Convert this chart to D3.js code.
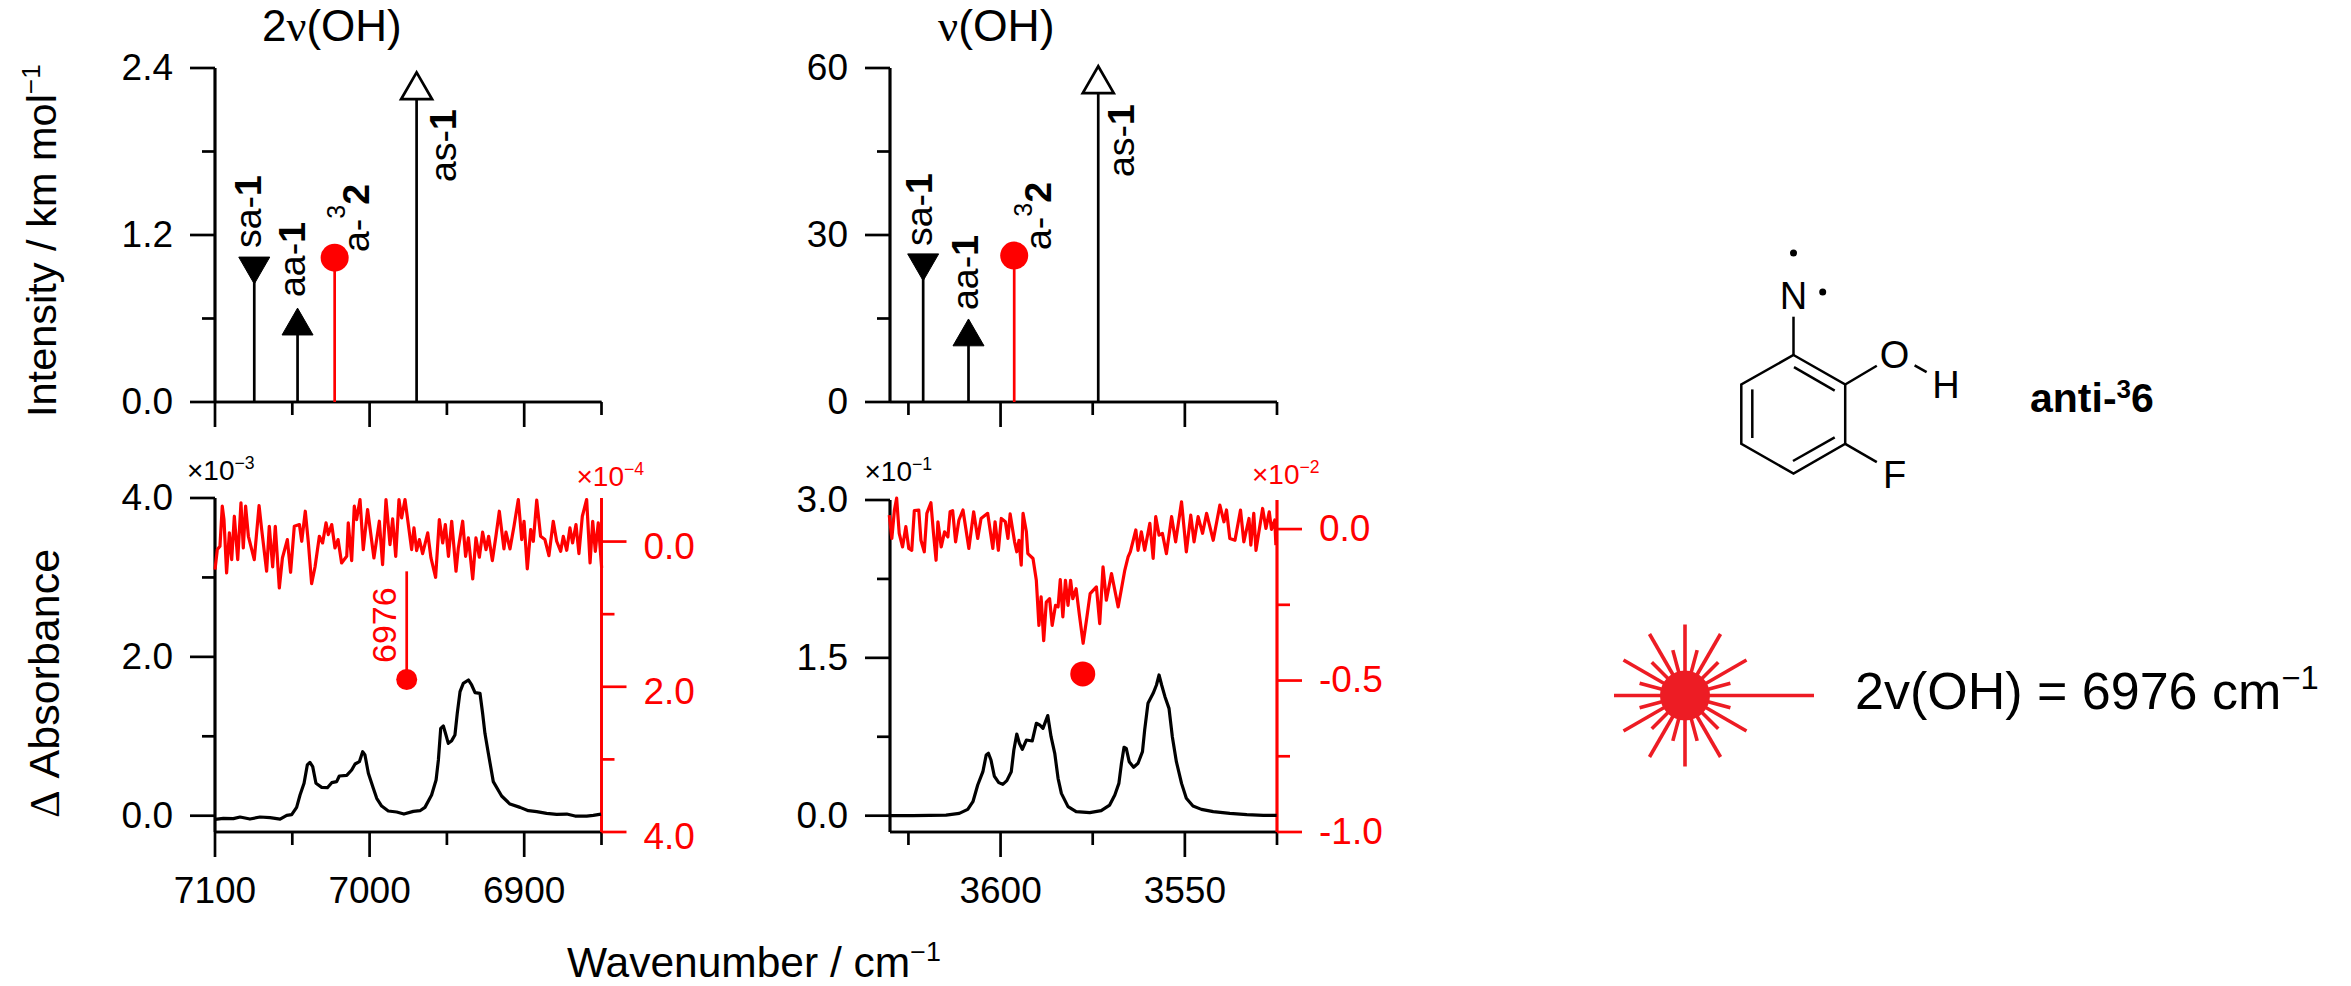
<!DOCTYPE html>
<html>
<head>
<meta charset="utf-8">
<script src="https://cdn.jsdelivr.net/npm/d3@7"></script>
<style>
body { margin: 0; background: #fff; }
text { font-family: "Liberation Sans", Arial, sans-serif; }
</style>
</head>
<body>
<div id="container"></div>
<script>
let w = 2351;
let h = 986;

// calculated sticks, top panels
let stickNames = ["sa", "aa", "a3", "as"];
let stickWn2v = [7074.6, 7046.6, 7022.6, 6969.6];
let stickInt2v = [0.977, 0.546, 1.037, 2.24];
let stickWn1v = [3621, 3608.7, 3596.3, 3573.5];
let stickInt1v = [25, 11.7, 26.3, 57.1];

// measured spectra, 2v(OH)
let wn2vBlack = [7100,7094.6,7088.1,7083.8,7077.4,7070.9,7064.4,7057.9,7053.6,7050.4,7047.2,7045,7042.4,7040.3,7038.6,7036.8,7034.7,7031,7027.3,7024.5,7021.3,7019.6,7014.8,7011.6,7009.4,7006.6,7004.5,7003,7000.8,6997.6,6995.4,6992.2,6987.9,6982.5,6977.8,6971.7,6967.4,6964.2,6959.9,6957,6955.5,6954,6952.3,6950.6,6949.1,6946.9,6944.8,6943.3,6941.5,6939.4,6936.1,6934,6931.8,6928.6,6926.9,6925.4,6923.2,6920,6914.6,6909.2,6902.7,6897.3,6891.9,6885.5,6879,6872.5,6867.1,6859.6,6855.3,6850.3];
let abs2vBlack = [-0.046,-0.033,-0.037,-0.016,-0.042,-0.016,-0.025,-0.042,0.005,0.013,0.105,0.261,0.408,0.639,0.672,0.618,0.408,0.357,0.353,0.416,0.429,0.5,0.508,0.576,0.651,0.68,0.806,0.764,0.534,0.345,0.219,0.122,0.059,0.047,0.021,0.055,0.063,0.105,0.261,0.45,0.702,1.1,1.13,1.016,0.911,0.945,1.016,1.289,1.562,1.667,1.709,1.646,1.55,1.541,1.289,1.037,0.786,0.429,0.248,0.147,0.105,0.063,0.051,0.03,0.017,0.021,-0.004,-0.004,0.005,0.021];
let wn2vRed = [7100,7098.5,7096.8,7095.3,7094.2,7092.5,7090.7,7089.2,7087.5,7085.3,7083.2,7081.7,7080.2,7078.4,7074.6,7071.5,7069.8,7066.6,7064.9,7062.7,7061,7058.4,7056.4,7053.2,7051.1,7048.7,7045.4,7043.9,7041.6,7039.6,7037.5,7035.3,7032.5,7030.4,7028.2,7026.7,7024.5,7022.4,7020.4,7018.1,7014.8,7013.8,7011.6,7009.9,7008.4,7006.2,7004.1,7001.3,6997.2,6993.7,6991.6,6989.4,6986.8,6985.1,6983.1,6981,6979.3,6977.1,6972.8,6971.3,6969.6,6967.8,6965.7,6962.4,6960.3,6957.3,6954.9,6952.7,6951,6949,6946.9,6944.1,6942.6,6939.8,6937.9,6936.1,6933.3,6931.2,6929,6926.9,6924.7,6923,6920.6,6918.3,6916.1,6913.1,6911.8,6909.2,6906.6,6903.8,6901.6,6900.1,6898,6895.8,6894.1,6891.9,6889.4,6886.6,6884,6881.2,6879,6876.4,6874.7,6872.5,6870.4,6868.7,6866.5,6864.6,6862.4,6859.6,6857.4,6855.7,6854,6852.1,6849.9];
let abs2vRed = [0.386,0.11,0.065,-0.487,-0.303,0.432,-0.119,0.249,-0.349,0.249,-0.533,0.088,-0.487,-0.073,0.249,-0.496,-0.165,0.409,-0.211,0.35,-0.211,0.639,0.226,-0.027,0.423,-0.211,-0.234,-0.004,-0.418,0.019,0.58,0.35,-0.073,0.019,-0.257,-0.096,-0.234,0.088,-0.027,0.295,0.203,-0.257,0.262,-0.487,-0.303,-0.579,0.111,-0.441,0.226,-0.28,0.317,-0.579,0.042,-0.312,0.203,-0.579,-0.326,-0.579,0.111,-0.188,0.124,-0.027,0.166,-0.119,0.226,0.492,-0.303,0.019,-0.234,0.203,-0.28,0.409,0.088,-0.28,0.203,-0.05,0.515,-0.05,0.216,-0.129,0.111,-0.073,0.262,-0.073,-0.418,0.101,-0.129,0.101,-0.211,-0.579,-0.027,-0.28,0.377,-0.165,-0.004,-0.57,-0.073,-0.027,0.193,-0.28,-0.004,0.134,-0.073,0.12,-0.188,0.019,-0.234,0.166,-0.349,-0.579,0.295,-0.28,0.134,-0.257,0.364];

// measured spectra, v(OH)
let wn1vBlack = [3630.2,3623.8,3614.8,3611.2,3608.9,3607.5,3606.2,3604.8,3603.9,3603.3,3602.6,3601.7,3600.5,3599.4,3598.3,3597.1,3596.4,3595.6,3594.9,3594.1,3593,3591.4,3590.3,3589.4,3588.5,3587.2,3586.3,3585.3,3584.4,3583.5,3581.7,3579.5,3575.8,3572.7,3570.4,3569,3567.9,3567.2,3566.5,3565.9,3565.1,3563.9,3562.7,3561.5,3560.9,3560,3558.6,3557.7,3557,3556.3,3555.4,3554.3,3553.4,3552.3,3550.9,3549.6,3547.8,3545.5,3542.3,3537.8,3533.2,3528.7,3525.1];
let abs1vBlack = [0,0,0.006,0.022,0.06,0.133,0.292,0.418,0.577,0.593,0.529,0.377,0.314,0.298,0.333,0.418,0.624,0.776,0.688,0.631,0.719,0.71,0.878,0.862,0.83,0.951,0.751,0.593,0.355,0.212,0.086,0.038,0.029,0.048,0.101,0.197,0.307,0.498,0.65,0.64,0.513,0.46,0.498,0.609,0.815,1.068,1.163,1.242,1.337,1.242,1.131,1.02,0.751,0.513,0.307,0.165,0.092,0.06,0.038,0.022,0.01,0.003,0.003];
let wn1vRed = [3630.2,3629.5,3628.8,3628.2,3627.5,3626.6,3625.7,3624.9,3624.1,3623.4,3622.2,3621.6,3620.7,3620,3618.9,3618.2,3617.5,3617,3616.1,3615.2,3614.3,3613.7,3613,3612.2,3611.3,3610.2,3608.6,3607.3,3606.2,3605.3,3603.5,3602.1,3601.5,3600.6,3599.8,3598.7,3598,3597.4,3596.2,3595.6,3595,3594.4,3593.9,3593,3592.6,3591.2,3590.3,3589.6,3589,3588.3,3587.6,3586.7,3586,3585.1,3584.4,3583.8,3583.1,3582.4,3581.7,3581,3580.4,3579.5,3578.6,3577.6,3576.7,3575.7,3574,3573.1,3572.2,3571.3,3569.9,3569,3568.1,3567.2,3566.3,3565.4,3564.8,3563.3,3562.7,3561.8,3560.9,3559.5,3558.6,3557.9,3557,3556.1,3555,3553.6,3552.5,3550.9,3549.6,3548.4,3547.5,3546.4,3545.2,3544.1,3542.3,3540.5,3539.4,3538.7,3537.8,3536.4,3534.9,3534,3532.6,3532.1,3531.3,3530.7,3528.9,3528,3527.1,3526.5,3525.6,3525.3];
let abs1vRed = [0.046,-0.031,0.063,0.102,-0.014,-0.059,0.008,-0.064,-0.07,0.061,0.063,-0.037,-0.075,0.052,0.087,-0.014,-0.103,0.024,-0.059,-0.009,-0.026,0.057,0.061,-0.042,0.03,0.063,-0.064,0.057,-0.031,0.035,0.052,-0.064,0.024,-0.07,0.035,0.024,-0.031,0.05,-0.042,-0.075,-0.037,-0.119,0.052,-0.009,-0.081,-0.097,-0.169,-0.318,-0.224,-0.368,-0.241,-0.23,-0.318,-0.252,-0.257,-0.167,-0.29,-0.169,-0.252,-0.169,-0.23,-0.197,-0.285,-0.377,-0.301,-0.213,-0.191,-0.312,-0.125,-0.235,-0.147,-0.202,-0.257,-0.197,-0.136,-0.092,-0.075,-0.003,-0.07,-0.009,-0.07,0.019,-0.097,0.041,-0.02,-0.014,-0.081,0.041,-0.042,0.09,-0.075,0.046,-0.042,0.041,-0.014,0.052,-0.037,0.079,0.024,0.063,-0.031,-0.037,0.063,-0.042,0.035,-0.053,0.052,-0.07,0.068,0.002,0.057,-0.001,0.03,-0.053];

// tick labels and minor ticks
let xMajor2v = [7100, 7000, 6900];
let xMinor2v = [7050, 6950, 6850];
let xMajor1v = [3600, 3550];
let xMinor1v = [3625, 3575, 3525];
let yMajorInt2v = [0, 1.2, 2.4];
let yMinorInt2v = [0.6, 1.8];
let yMajorInt1v = [0, 30, 60];
let yMinorInt1v = [15, 45];
let yMajorAbs2v = [0, 2, 4];
let yMinorAbs2v = [1, 3];
let yMajorAbs1v = [0, 1.5, 3];
let yMinorAbs1v = [0.75, 2.25];
let redMajor2v = [0, 2, 4];
let redMinor2v = [1, 3];
let redMajor1v = [0, -0.5, -1];
let redMinor1v = [-0.25, -0.75];

// laser burst rays, degrees clockwise from north
let longRays = [0, 30, 60, 120, 150, 180, 210, 240, 270, 300, 330];
let shortRays = [15, 45, 75, 105, 135, 165, 195, 225, 255, 285, 315, 345];

let RED = "#ff0000";
let TOPY = [402, 68];
let LOWY = 832;

let viz = d3.select("#container")
    .append("svg")
    .attr("width", w)
    .attr("height", h)
    .style("display", "block");

// SCALES
let x2v = d3.scaleLinear().domain([7100, 6850]).range([215, 601.5]);
let x1v = d3.scaleLinear().domain([3630, 3525]).range([890, 1277]);
let yInt2v = d3.scaleLinear().domain([0, 2.4]).range(TOPY);
let yInt1v = d3.scaleLinear().domain([0, 60]).range(TOPY);
let yAbs2v = d3.scaleLinear().domain([-0.205, 4]).range([LOWY, 498]);
let yAbs1v = d3.scaleLinear().domain([-0.155, 3]).range([LOWY, 500]);
let yRed2v = d3.scaleLinear().domain([-0.6, 4]).range([498, LOWY]);
let yRed1v = d3.scaleLinear().domain([0.096, -1]).range([500, LOWY]);

// AXIS
function drawAxis(axis, tx, ty, color, labelShift) {
    let g = viz.append("g")
        .attr("transform", `translate(${tx},${ty})`)
        .call(axis.offset(0).tickSizeOuter(0));
    g.selectAll("path, line").attr("stroke", color).attr("stroke-width", 2.7);
    g.selectAll("text").attr("fill", color).attr("font-size", 37)
        .style("font-family", '"Liberation Sans", Arial, sans-serif');
    if (labelShift) g.selectAll("text").attr("y", labelShift);
    return g;
}

function axisPair(maker, scale, major, minor, tx, ty, color, fmt, pad, labelShift) {
    drawAxis(maker(scale).tickValues(minor).tickSize(13).tickFormat(""), tx, ty, color);
    drawAxis(maker(scale).tickValues(major).tickSize(25).tickPadding(pad).tickFormat(fmt), tx, ty, color, labelShift);
}

let fixed1 = d => d.toFixed(1);
let plain = d => String(d);
let noLabel = () => "";

// top panels
axisPair(d3.axisLeft, yInt2v, yMajorInt2v, yMinorInt2v, 215, 0, "#000", fixed1, 17);
axisPair(d3.axisBottom, x2v, xMajor2v, xMinor2v, 0, TOPY[0], "#000", noLabel, 20);
axisPair(d3.axisLeft, yInt1v, yMajorInt1v, yMinorInt1v, 890, 0, "#000", plain, 17);
axisPair(d3.axisBottom, x1v, xMajor1v, xMinor1v, 0, TOPY[0], "#000", noLabel, 20);

// lower panels
axisPair(d3.axisLeft, yAbs2v, yMajorAbs2v, yMinorAbs2v, 215, 0, "#000", fixed1, 17);
axisPair(d3.axisBottom, x2v, xMajor2v, xMinor2v, 0, LOWY, "#000", plain, 20);
// the red labels of this axis sit a little under their ticks
axisPair(d3.axisRight, yRed2v, redMajor2v, redMinor2v, x2v.range()[1], 0, RED, fixed1, 17, 5.5);
axisPair(d3.axisLeft, yAbs1v, yMajorAbs1v, yMinorAbs1v, 890, 0, "#000", fixed1, 17);
axisPair(d3.axisBottom, x1v, xMajor1v, xMinor1v, 0, LOWY, "#000", plain, 20);
axisPair(d3.axisRight, yRed1v, redMajor1v, redMinor1v, 1277, 0, RED, fixed1, 17);

// STICKS
let symUp = d3.symbol().type(d3.symbolTriangle).size(416);

function drawSticks(x, y, wn, val) {
    stickNames.forEach((name, i) => {
        let px = x(wn[i]);
        let py = y(val[i]);
        viz.append("line")
            .attr("x1", px).attr("x2", px)
            .attr("y1", y(0)).attr("y2", py)
            .attr("stroke", name == "a3" ? RED : "#000")
            .attr("stroke-width", 2.7);
        if (name == "a3") {
            viz.append("circle").attr("cx", px).attr("cy", py).attr("r", 14).attr("fill", RED);
        } else {
            viz.append("path")
                .attr("d", symUp())
                .attr("transform", `translate(${px},${py})` + (name == "sa" ? " rotate(180)" : ""))
                .attr("fill", name == "as" ? "#fff" : "#000")
                .attr("stroke", "#000")
                .attr("stroke-width", name == "as" ? 2.7 : 1);
        }
    });
}

drawSticks(x2v, yInt2v, stickWn2v, stickInt2v);
drawSticks(x1v, yInt1v, stickWn1v, stickInt1v);

// rotated labels next to the sticks
function stickLabel(tx, ty, pre, num) {
    let t = viz.append("text")
        .attr("transform", `translate(${tx},${ty}) rotate(-90)`)
        .attr("font-size", 37.5);
    t.append("tspan").text(pre);
    t.append("tspan").attr("font-weight", "bold").text(num);
}

function stickLabel3(tx, ty, supDy) {
    let t = viz.append("text")
        .attr("transform", `translate(${tx},${ty}) rotate(-90)`)
        .attr("font-size", 37.5);
    t.append("tspan").text("a-");
    t.append("tspan").attr("font-size", 25).attr("dy", -supDy).text("3");
    t.append("tspan").attr("font-weight", "bold").attr("dy", supDy).text("2");
}

stickLabel(261, 248, "sa-", "1");
stickLabel(305, 297, "aa-", "1");
stickLabel3(368.5, 252, 23.5);
stickLabel(456, 182, "as-", "1");
stickLabel(932, 246, "sa-", "1");
stickLabel(978, 310, "aa-", "1");
stickLabel3(1050.5, 250, 18.5);
stickLabel(1134, 177, "as-", "1");

// GRAPH
function drawLine(x, y, wn, val, color) {
    let line = d3.line().x(d => x(d[0])).y(d => y(d[1]));
    viz.append("path")
        .datum(d3.zip(wn, val))
        .attr("d", line)
        .attr("fill", "none")
        .attr("stroke", color)
        .attr("stroke-width", 3.2)
        .attr("stroke-linejoin", "round");
}

drawLine(x2v, yRed2v, wn2vRed, abs2vRed, RED);
drawLine(x2v, yAbs2v, wn2vBlack, abs2vBlack, "#000");
drawLine(x1v, yRed1v, wn1vRed, abs1vRed, RED);
drawLine(x1v, yAbs1v, wn1vBlack, abs1vBlack, "#000");

// band position markers
viz.append("line")
    .attr("x1", x2v(6976)).attr("x2", x2v(6976))
    .attr("y1", yRed2v(0.41)).attr("y2", yRed2v(1.9))
    .attr("stroke", RED).attr("stroke-width", 2.7);
viz.append("circle").attr("cx", x2v(6976)).attr("cy", yRed2v(1.9)).attr("r", 10.5).attr("fill", RED);
viz.append("text")
    .attr("transform", `translate(395.5,663) rotate(-90)`)
    .attr("font-size", 34)
    .attr("fill", RED)
    .text("6976");
viz.append("circle").attr("cx", x1v(3577.7)).attr("cy", yRed1v(-0.478)).attr("r", 12.5).attr("fill", RED);

// TEXT
function supText(tx, ty, base, sup, size, color, rotate) {
    let t = viz.append("text")
        .attr("transform", `translate(${tx},${ty})` + (rotate ? " rotate(-90)" : ""))
        .attr("font-size", size)
        .attr("fill", color || "#000");
    t.append("tspan").text(base);
    t.append("tspan").attr("font-size", size * 0.63).attr("dy", -size * 0.38).text(sup);
    return t;
}

// panel titles
let title2 = viz.append("text").attr("transform", "translate(262,41)").attr("font-size", 44);
title2.append("tspan").text("2");
title2.append("tspan").style("font-family", '"Liberation Serif", serif').text("ν");
title2.append("tspan").text("(OH)");
let title1 = viz.append("text").attr("transform", "translate(938,41)").attr("font-size", 44.5);
title1.append("tspan").style("font-family", '"Liberation Serif", serif').text("ν");
title1.append("tspan").text("(OH)");

// axis titles
supText(56, 417, "Intensity / km mol", "−1", 41.5, "#000", true);
let absTitle = viz.append("text").attr("transform", "translate(59,818) rotate(-90)").attr("font-size", 43);
absTitle.append("tspan").style("font-family", '"Liberation Serif", serif').text("Δ");
absTitle.append("tspan").text(" Absorbance");
supText(567, 977, "Wavenumber / cm", "−1", 42.5);

// axis multipliers
supText(187, 480, "×10", "−3", 28);
supText(576.5, 486, "×10", "−4", 28, RED);
supText(864.5, 481, "×10", "−1", 28);
supText(1252, 484, "×10", "−2", 28, RED);

// MOLECULE
let ringPoints = [[1793.5, 355], [1845.2, 384.5], [1845.2, 443.8], [1793.5, 473.6], [1741.3, 443.8], [1741.3, 384.5]];
let mol = viz.append("g");
mol.append("polygon")
    .attr("points", ringPoints.map(d => d.join(",")).join(" "))
    .attr("fill", "none").attr("stroke", "#000").attr("stroke-width", 2.5);
let molBonds = [
    [1793.5, 355, 1793.5, 316.7],
    [1845.2, 384.5, 1876.8, 365.7],
    [1914.6, 365.3, 1926.6, 372.2],
    [1845.2, 443.8, 1876.8, 462.1],
    [1794, 367.2, 1834.7, 390.6],
    [1834.7, 437.3, 1793, 461],
    [1752.3, 389.4, 1752.3, 438]
];
mol.selectAll("line").data(molBonds).enter().append("line")
    .attr("x1", d => d[0]).attr("y1", d => d[1]).attr("x2", d => d[2]).attr("y2", d => d[3])
    .attr("stroke", "#000").attr("stroke-width", 2.5);
let molAtoms = [["N", 1793.5, 309], ["O", 1894.5, 368], ["H", 1946, 398], ["F", 1894.5, 488]];
mol.selectAll("text").data(molAtoms).enter().append("text")
    .attr("x", d => d[1]).attr("y", d => d[2])
    .attr("text-anchor", "middle").attr("font-size", 38)
    .text(d => d[0]);
mol.append("circle").attr("cx", 1793.5).attr("cy", 253).attr("r", 3.5);
mol.append("circle").attr("cx", 1822.7).attr("cy", 292).attr("r", 3.5);

let anti = viz.append("text").attr("transform", "translate(2030,411.5)").attr("font-size", 41).attr("font-weight", "bold");
anti.append("tspan").text("anti-");
anti.append("tspan").attr("font-size", 26).attr("dy", -14).text("3");
anti.append("tspan").attr("dy", 14).text("6");

// LASER
let laser = viz.append("g").attr("transform", "translate(1685,695.5)");
let BURST = "#ed1c24";
function ray(angle, len) {
    let rad = angle * Math.PI / 180;
    laser.append("line")
        .attr("x1", 0).attr("y1", 0)
        .attr("x2", len * Math.sin(rad)).attr("y2", -len * Math.cos(rad))
        .attr("stroke", BURST).attr("stroke-width", 3.6);
}
longRays.forEach(a => ray(a, 71));
shortRays.forEach(a => ray(a, 47));
ray(90, 129);
laser.append("circle").attr("r", 25).attr("fill", BURST);

supText(1855, 709, "2v(OH) = 6976 cm", "−1", 52);
</script>
</body>
</html>
